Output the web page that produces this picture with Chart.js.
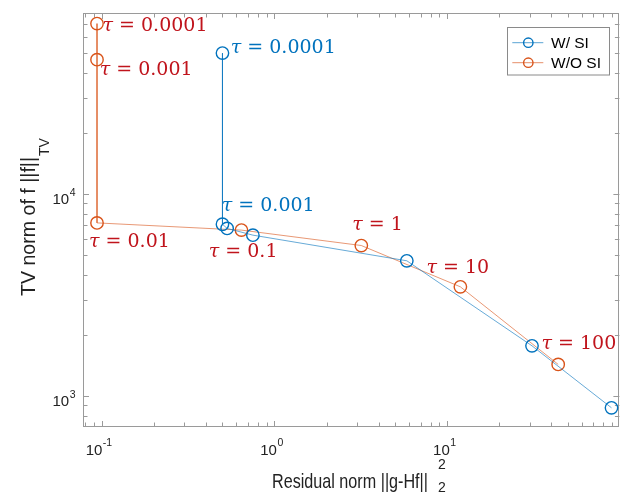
<!DOCTYPE html>
<html><head><meta charset="utf-8">
<script src="https://cdn.jsdelivr.net/npm/chart.js@4.4.1/dist/chart.umd.min.js"></script>
<style>html,body{margin:0;padding:0;background:#fff;}#wrap{width:627px;height:498px;}</style>
</head><body><div id="wrap"><canvas id="c" width="627" height="498"></canvas></div>
<script>
// ---- data ----
const seriesNames = ['W/ SI', 'W/O SI'];
const withSI_x = [0.50, 0.50, 0.532, 0.75, 5.83, 30.9, 89.1];
const withSI_y = [50000, 7100, 6770, 6270, 4680, 1774, 875];
const withoutSI_x = [0.094, 0.094, 0.094, 0.644, 3.18, 11.9, 43.8];
const withoutSI_y = [70000, 46400, 7210, 6640, 5570, 3478, 1435];
const withSI_tau = ['0.0001', '0.001'];
const withoutSI_tau = ['0.0001', '0.001', '0.01', '0.1', '1', '10', '100'];
const xTickExps = ['-1', '0', '1'];
const yTickExps = ['3', '4'];
const xTitle = 'Residual norm ||g-Hf||';
const yTitle = 'TV norm of f ||f||';
const yTitleSub = 'TV';

// ---- styles / placement ----
const BLUE = '#0072BD', ORANGE = '#D95319';
const RED_TXT = '#C0141C', BLUE_TXT = '#0072BD';
const FRAME = '#9a9a9a', TXT = '#222222';
const SANS = '"Liberation Sans", Arial, sans-serif';
const SERIF = '"DejaVu Serif", serif';
const blueLabelOffsets = [[8.3, -0.3], [-0.7, -13.3]];
const orangeLabelOffsets = [[5.5, 7.7], [2.7, 15.7], [-8, 24], [-32.7, 26.7], [-9, -15.3], [-34, -14], [-16.7, -15]];

function pts(xs, ys) { return xs.map((x, i) => ({x: x, y: ys[i]})); }

function fitText(ctx, text, x, y, targetW) {
  const w = ctx.measureText(text).width;
  const s = targetW ? targetW / w : 1;
  ctx.save(); ctx.translate(x, y); ctx.scale(s, 1); ctx.fillText(text, 0, 0); ctx.restore();
  return w * s;
}

function drawTau(ctx, value, x, y, color) {
  ctx.fillStyle = color;
  ctx.textAlign = 'left'; ctx.textBaseline = 'alphabetic';
  ctx.font = 'italic 19px ' + SERIF;
  ctx.fillText('τ', x, y);
  const w = ctx.measureText('τ').width;
  ctx.font = '19px ' + SERIF;
  ctx.fillText(' = ' + value, x + w, y);
}

const decor = {
  id: 'decor',
  beforeDatasetsDraw(chart) {
    const ctx = chart.ctx, a = chart.chartArea, xs = chart.scales.x, ys = chart.scales.y;
    ctx.save();
    ctx.strokeStyle = FRAME; ctx.lineWidth = 1;
    ctx.strokeRect(Math.round(a.left) + 0.5, Math.round(a.top) + 0.5, Math.round(a.right - a.left) - 1, Math.round(a.bottom - a.top) - 1);
    // inside tick marks
    ctx.beginPath();
    for (let d = -3; d <= 6; d++) {
      for (let k = 1; k <= 9; k++) {
        const v = k * Math.pow(10, d);
        const len = k === 1 ? 6 : 4.5;
        if (v > xs.min && v < xs.max) {
          const px = Math.round(xs.getPixelForValue(v)) + 0.5;
          ctx.moveTo(px, a.bottom); ctx.lineTo(px, a.bottom - len);
          ctx.moveTo(px, a.top); ctx.lineTo(px, a.top + len);
        }
        if (v > ys.min && v < ys.max) {
          const py = Math.round(ys.getPixelForValue(v)) + 0.5;
          ctx.moveTo(a.left, py); ctx.lineTo(a.left + len, py);
          ctx.moveTo(a.right, py); ctx.lineTo(a.right - len, py);
        }
      }
    }
    ctx.stroke();
    // tick labels
    ctx.fillStyle = TXT; ctx.textBaseline = 'alphabetic'; ctx.textAlign = 'left';
    xTickExps.forEach(e => {
      const px = xs.getPixelForValue(Math.pow(10, Number(e)));
      ctx.font = '15px ' + SANS; const w1 = ctx.measureText('10').width;
      ctx.font = '10.5px ' + SANS; const w2 = ctx.measureText(e).width;
      const x0 = px - (w1 + w2) / 2 - 3;
      ctx.font = '15px ' + SANS; ctx.fillText('10', x0, a.bottom + 28);
      ctx.font = '10.5px ' + SANS; ctx.fillText(e, x0 + w1 + 0.5, a.bottom + 19);
    });
    yTickExps.forEach(e => {
      const py = ys.getPixelForValue(Math.pow(10, Number(e)));
      ctx.font = '10.5px ' + SANS; const w2 = ctx.measureText(e).width;
      ctx.font = '15px ' + SANS; const w1 = ctx.measureText('10').width;
      const x0 = a.left - 8 - w2 - w1;
      ctx.fillText('10', x0, py + 10);
      ctx.font = '10.5px ' + SANS; ctx.fillText(e, x0 + w1 + 0.5, py + 2);
    });
    // axis titles
    ctx.font = '21px ' + SANS;
    fitText(ctx, xTitle, 272, 488, 156);
    ctx.font = '14px ' + SANS;
    ctx.fillText('2', 438, 469);
    ctx.fillText('2', 438, 492);
    ctx.save();
    ctx.translate(35, 296); ctx.rotate(-Math.PI / 2);
    ctx.font = '21px ' + SANS;
    const tw = fitText(ctx, yTitle, 0, 0, 139);
    ctx.font = '14px ' + SANS;
    ctx.fillText(yTitleSub, tw + 1, 14);
    ctx.restore();
    ctx.restore();
  },
  afterDatasetsDraw(chart) {
    const ctx = chart.ctx, xs = chart.scales.x, ys = chart.scales.y;
    ctx.save();
    withoutSI_tau.forEach((t, i) => {
      const px = xs.getPixelForValue(withoutSI_x[i]), py = ys.getPixelForValue(withoutSI_y[i]);
      drawTau(ctx, t, px + orangeLabelOffsets[i][0], py + orangeLabelOffsets[i][1], RED_TXT);
    });
    withSI_tau.forEach((t, i) => {
      const px = xs.getPixelForValue(withSI_x[i]), py = ys.getPixelForValue(withSI_y[i]);
      drawTau(ctx, t, px + blueLabelOffsets[i][0], py + blueLabelOffsets[i][1], BLUE_TXT);
    });
    // legend
    const bx = 507.5, by = 27.5, bw = 102, bh = 47.5;
    ctx.fillStyle = '#fff'; ctx.fillRect(bx, by, bw, bh);
    ctx.strokeStyle = '#8a8a8a'; ctx.lineWidth = 1; ctx.strokeRect(bx, by, bw, bh);
    [['rgba(0,114,189,0.65)', BLUE, 42.7], ['rgba(217,83,25,0.65)', ORANGE, 62.7]].forEach((c, i) => {
      ctx.strokeStyle = c[0]; ctx.lineWidth = 1;
      ctx.beginPath(); ctx.moveTo(512.3, c[2]); ctx.lineTo(543.3, c[2]); ctx.stroke();
      ctx.strokeStyle = c[1]; ctx.lineWidth = 1.4;
      ctx.beginPath(); ctx.arc(528.3, c[2], 4.7, 0, Math.PI * 2); ctx.stroke();
      ctx.fillStyle = '#000'; ctx.font = '15.5px ' + SANS; ctx.textAlign = 'left'; ctx.textBaseline = 'alphabetic';
      ctx.fillText(seriesNames[i], 551, c[2] + 5.5);
    });
    ctx.restore();
  }
};

new Chart(document.getElementById('c'), {
  type: 'scatter',
  data: {
    datasets: [
      { label: seriesNames[0], data: pts(withSI_x, withSI_y), showLine: true,
        borderColor: 'rgba(0,114,189,0.6)', borderWidth: 1, pointBorderColor: BLUE,
        pointBackgroundColor: 'rgba(0,0,0,0)', pointRadius: 6.2, pointBorderWidth: 1.4, pointHoverRadius: 6.2 },
      { label: seriesNames[1], data: pts(withoutSI_x, withoutSI_y), showLine: true,
        borderColor: 'rgba(217,83,25,0.6)', borderWidth: 1, pointBorderColor: ORANGE,
        pointBackgroundColor: 'rgba(0,0,0,0)', pointRadius: 6.2, pointBorderWidth: 1.4, pointHoverRadius: 6.2 }
    ]
  },
  options: {
    responsive: false, animation: false,
    layout: { padding: { left: 0, right: 4, top: 13, bottom: 0 } },
    plugins: { legend: { display: false }, tooltip: { enabled: false } },
    scales: {
      x: { type: 'logarithmic', min: 0.078, max: 99, ticks: { display: false }, grid: { display: false }, border: { display: false },
           afterFit: s => { s.height = 71; } },
      y: { type: 'logarithmic', min: 703, max: 79000, ticks: { display: false }, grid: { display: false }, border: { display: false },
           afterFit: s => { s.width = 83; } }
    }
  },
  plugins: [decor]
});
</script></body></html>
